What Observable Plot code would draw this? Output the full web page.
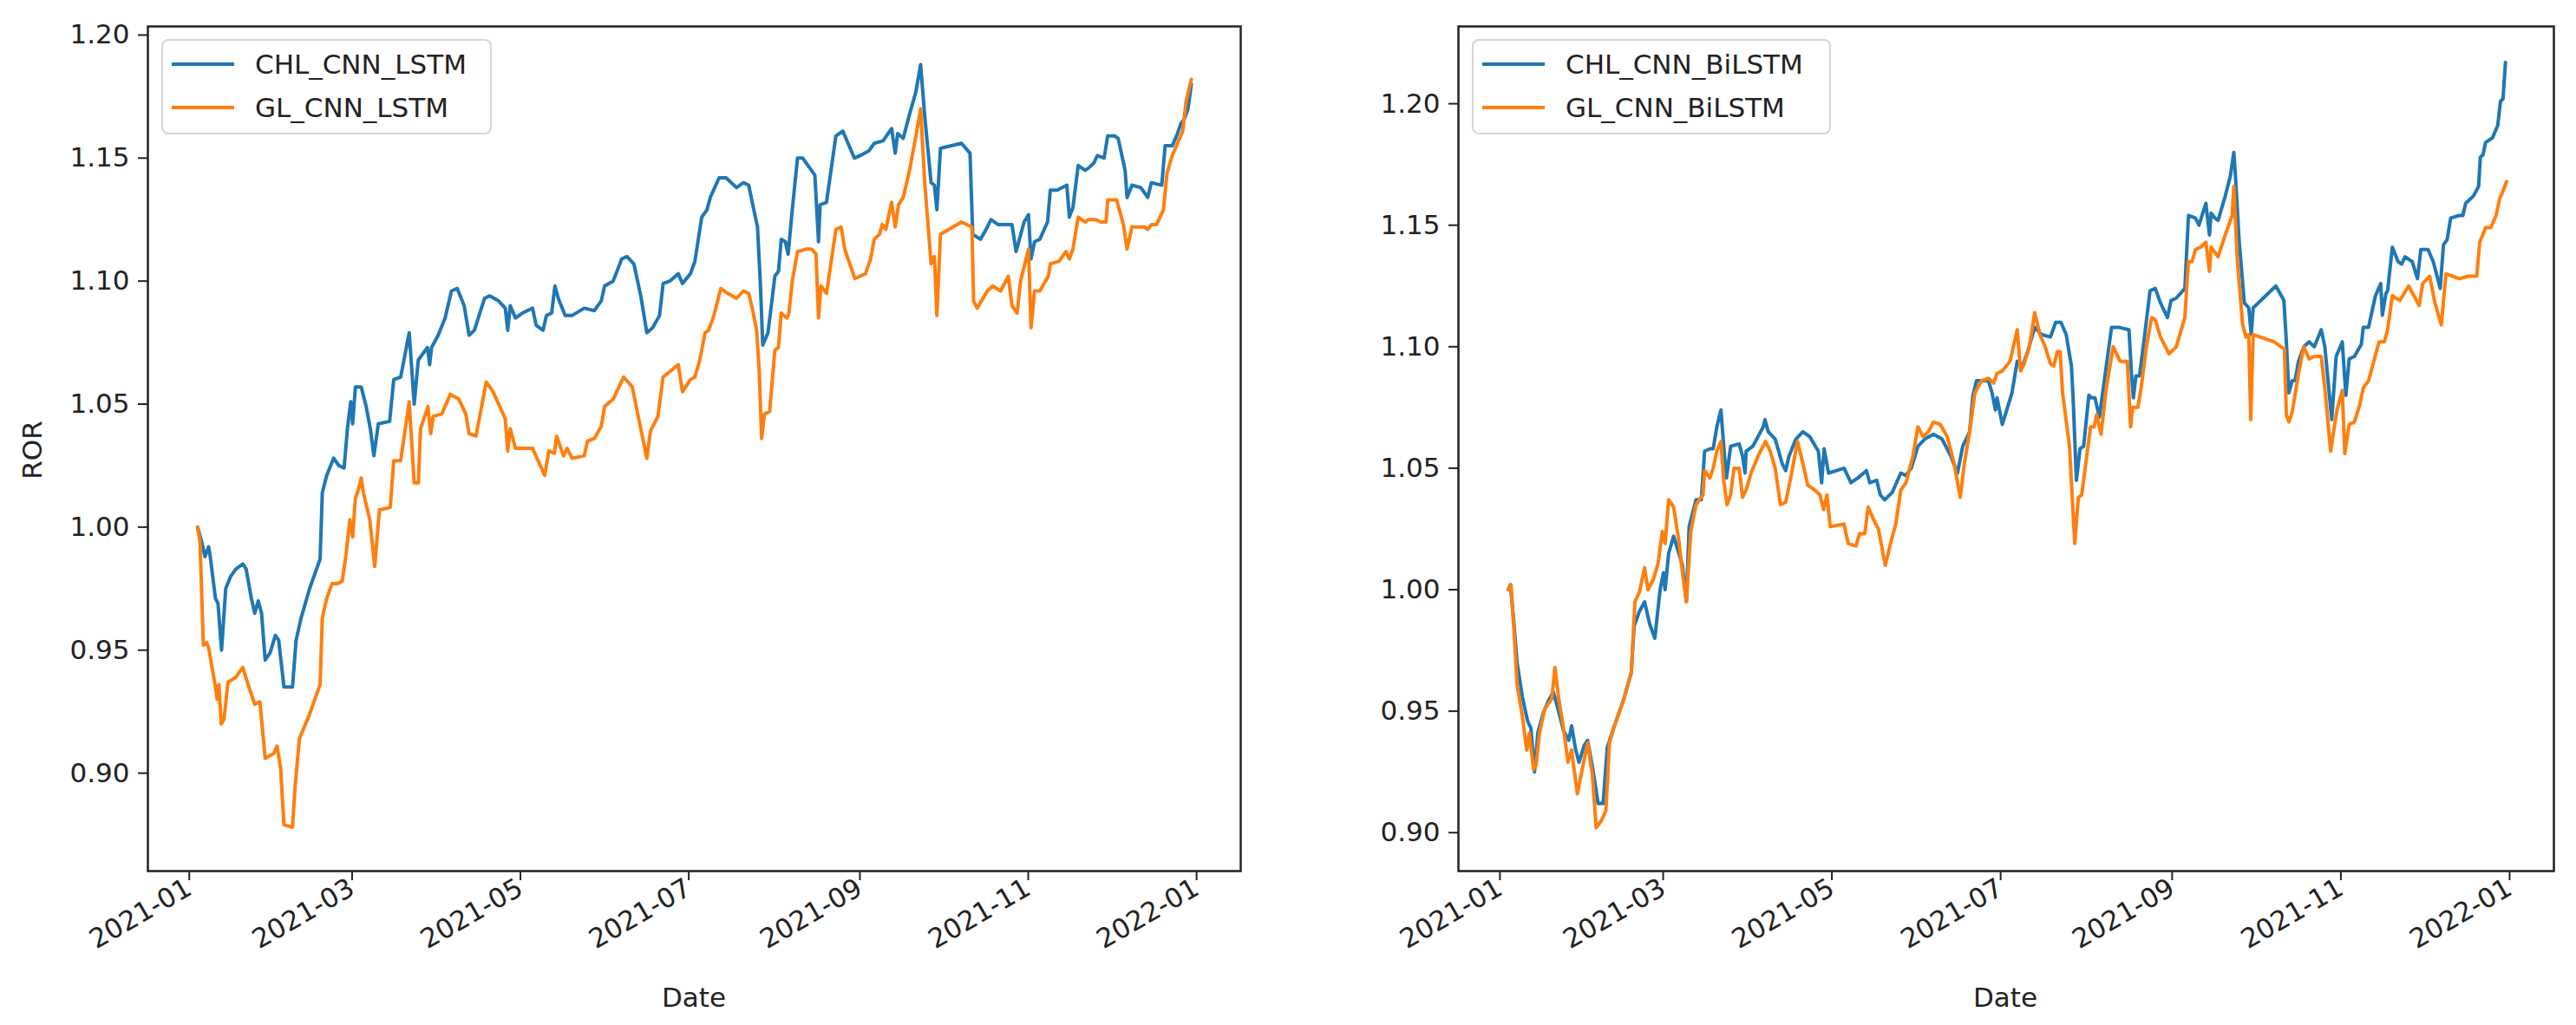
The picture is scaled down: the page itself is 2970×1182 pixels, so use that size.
<!DOCTYPE html>
<html><head><meta charset="utf-8">
<script src="https://cdn.jsdelivr.net/npm/d3@7"></script>
<script src="https://cdn.jsdelivr.net/npm/@observablehq/plot@0.6"></script>
<style>
html,body{margin:0;padding:0;background:#fff;}
#root{position:relative;width:2970px;height:1182px;overflow:hidden;font-family:"DejaVu Sans",sans-serif;background:#fff;}
.panel{position:absolute;top:0;}
.legend{position:absolute;border:2px solid #d6d6d6;border-radius:8px;background:rgba(255,255,255,0.8);box-sizing:border-box;}
.swatch{position:absolute;height:4px;}
.ltext{position:absolute;font-size:31px;color:#222;white-space:nowrap;line-height:1;}
.axlabel{position:absolute;font-size:31px;color:#222;white-space:nowrap;line-height:1;}
</style>
</head><body>
<div id="root"></div>
<script>
// ---- data: [day offset from 2021-01-01 (UTC), ROR] ----
const chlCnnLstm = [[3,1.000],[4.5,0.994],[5.7,0.988],[7,0.992],[7.6,0.988],[9.5,0.971],[10.4,0.969],[11.7,0.950],[13.2,0.975],[15,0.980],[16.9,0.983],[19.4,0.985],[20.6,0.983],[22.5,0.971],[23.7,0.965],[25,0.970],[26.2,0.965],[27.5,0.946],[29.3,0.949],[31.2,0.956],[32.4,0.954],[34.3,0.935],[37.4,0.935],[38.7,0.954],[40.5,0.963],[43.6,0.975],[47.4,0.987],[48.2,1.014],[49.8,1.021],[52.3,1.028],[54.2,1.025],[56.1,1.024],[57.3,1.040],[58.5,1.051],[59.2,1.042],[60.2,1.057],[62.3,1.057],[64.1,1.049],[65.6,1.040],[66.9,1.029],[68.5,1.042],[72.6,1.043],[74.1,1.060],[76.6,1.061],[79.7,1.079],[81.5,1.050],[83,1.068],[86.3,1.073],[87.1,1.066],[87.8,1.073],[90.2,1.078],[92.7,1.085],[95,1.096],[97.1,1.097],[99.6,1.090],[101.4,1.078],[103.3,1.080],[107,1.093],[108.9,1.094],[112,1.092],[114.5,1.089],[115.4,1.080],[116.3,1.090],[118.2,1.085],[120.7,1.087],[124.4,1.089],[125.7,1.082],[128.2,1.080],[129.4,1.086],[131.3,1.087],[132.5,1.098],[133.7,1.093],[136.2,1.086],[138.7,1.086],[143.1,1.089],[146.8,1.088],[149.3,1.092],[150.5,1.098],[153.6,1.100],[156.7,1.109],[158.6,1.110],[161.1,1.107],[163.6,1.094],[165.8,1.079],[167.9,1.081],[170.4,1.086],[171.7,1.099],[174.1,1.100],[177.2,1.103],[178.7,1.099],[181.6,1.103],[183.2,1.108],[185.7,1.126],[187.6,1.129],[188.8,1.134],[192,1.142],[194.5,1.142],[198.3,1.138],[200.8,1.140],[202.7,1.139],[204,1.132],[205.9,1.122],[206.9,1.100],[207.8,1.074],[209.7,1.079],[212.2,1.102],[213.5,1.104],[214.5,1.117],[216,1.116],[217,1.111],[218.5,1.129],[220.4,1.150],[222.3,1.150],[226.7,1.143],[228,1.116],[228.6,1.131],[230.9,1.132],[234.3,1.159],[236.8,1.161],[238.7,1.156],[241,1.150],[243.1,1.151],[246.3,1.153],[248.2,1.156],[251.4,1.157],[254.5,1.162],[255.8,1.152],[256.7,1.160],[258.7,1.158],[260.8,1.167],[263.3,1.177],[265,1.188],[266.5,1.167],[268.8,1.140],[270,1.139],[270.9,1.129],[272.2,1.154],[279.8,1.156],[282.9,1.152],[283.9,1.119],[286.7,1.117],[289.2,1.122],[290.5,1.125],[293,1.123],[296.8,1.123],[298.1,1.123],[299.6,1.112],[302.5,1.124],[304.1,1.127],[305,1.109],[306.3,1.116],[308.2,1.117],[311,1.124],[312,1.137],[314.5,1.137],[318,1.139],[318.9,1.126],[320.2,1.130],[322.1,1.147],[324.6,1.145],[325.9,1.146],[327.8,1.148],[329,1.151],[331.5,1.150],[332.8,1.159],[335.3,1.159],[336.6,1.158],[339.1,1.145],[339.8,1.134],[341.6,1.139],[344.8,1.138],[347.3,1.134],[348.6,1.140],[352.4,1.139],[353.6,1.155],[356.2,1.155],[358.1,1.160],[359.3,1.164],[360.6,1.166],[361.9,1.170],[363.1,1.180]];

const glCnnLstm = [[3,1.000],[3.9,0.994],[5.1,0.952],[6.3,0.953],[7,0.951],[9.5,0.935],[10.1,0.930],[10.7,0.936],[11.6,0.920],[12.6,0.922],[14,0.937],[16.9,0.939],[19.4,0.943],[21.3,0.936],[23.7,0.928],[25.6,0.929],[27.5,0.906],[30.6,0.908],[31.8,0.911],[33.1,0.902],[34.3,0.879],[37.4,0.878],[38.3,0.894],[39.9,0.914],[43.6,0.924],[47.4,0.936],[48.2,0.963],[49.8,0.971],[51.7,0.977],[53.6,0.977],[55.4,0.978],[56.7,0.988],[58.2,1.003],[59.2,0.996],[60.2,1.012],[61,1.014],[62.3,1.020],[63.1,1.014],[65.4,1.003],[67.2,0.984],[68.9,1.007],[72.8,1.008],[74.1,1.027],[76.6,1.027],[79.7,1.051],[81.5,1.018],[83,1.018],[83.8,1.040],[86.5,1.049],[87.5,1.038],[88.4,1.045],[91.5,1.046],[94.6,1.054],[97.7,1.052],[100.2,1.046],[101.4,1.038],[103.9,1.037],[107.6,1.059],[110.1,1.055],[114.5,1.044],[115.4,1.031],[116.3,1.040],[118.2,1.032],[124.4,1.032],[128.8,1.021],[130.3,1.031],[132.3,1.030],[133.1,1.037],[135.6,1.029],[136.9,1.032],[138.7,1.028],[143.1,1.029],[144.3,1.035],[146.8,1.036],[149.3,1.041],[150.5,1.049],[153.6,1.052],[157.4,1.061],[160.5,1.057],[163.6,1.040],[165.8,1.028],[167.1,1.039],[169.8,1.045],[171.7,1.061],[177.2,1.066],[178.7,1.055],[181.6,1.060],[183.2,1.061],[185,1.068],[186.9,1.079],[188.2,1.080],[190.1,1.086],[192.6,1.097],[195.1,1.095],[198.3,1.093],[200.8,1.096],[202.7,1.095],[204,1.089],[205.6,1.080],[206.5,1.064],[207.4,1.036],[208.4,1.046],[210.3,1.047],[212.2,1.072],[213.5,1.073],[214.5,1.087],[216.6,1.085],[217.3,1.087],[218.5,1.100],[220.4,1.112],[223.6,1.113],[225.5,1.113],[227.1,1.111],[228,1.085],[228.9,1.098],[230.9,1.095],[233,1.111],[234.3,1.121],[236.2,1.122],[237.5,1.113],[241.2,1.101],[245,1.103],[246.9,1.109],[248.2,1.117],[250.1,1.119],[251.1,1.123],[252.4,1.121],[254.5,1.132],[255.8,1.122],[257,1.131],[258.7,1.134],[260.8,1.144],[263.3,1.159],[265,1.170],[266.5,1.140],[268.8,1.107],[270,1.110],[270.9,1.086],[272.2,1.119],[279.8,1.124],[283.6,1.122],[284.2,1.092],[285.5,1.089],[289.2,1.096],[291.1,1.098],[294,1.096],[296.8,1.102],[298.1,1.090],[300,1.087],[301.2,1.100],[304.1,1.113],[305,1.081],[306.3,1.096],[308.2,1.096],[311.3,1.102],[312,1.107],[315.1,1.108],[317.7,1.112],[318.9,1.109],[320.2,1.113],[322.1,1.126],[324.6,1.124],[325.9,1.125],[328.4,1.125],[330.3,1.124],[332.2,1.124],[332.8,1.133],[336,1.133],[338.5,1.123],[339.8,1.113],[341.6,1.122],[346.1,1.122],[347.3,1.121],[348.6,1.123],[350.5,1.123],[353,1.129],[354.3,1.144],[356.2,1.151],[358.1,1.156],[360,1.161],[361.2,1.173],[363.1,1.182]];

const chlCnnBiLstm = [[3,1.000],[3.8,1.002],[5,0.987],[6.2,0.970],[8.1,0.956],[10,0.946],[11.2,0.943],[12.5,0.925],[13.7,0.941],[15.6,0.949],[17.4,0.954],[19.3,0.958],[20.5,0.953],[23,0.942],[24.9,0.938],[25.9,0.944],[27.4,0.934],[28.6,0.929],[30.5,0.936],[31.7,0.938],[33.6,0.926],[35.5,0.912],[37.3,0.912],[38.8,0.935],[41.1,0.943],[44.8,0.955],[47.5,0.966],[48.5,0.985],[50.4,0.991],[52.3,0.995],[54.1,0.986],[56,0.980],[57.9,1.000],[59.1,1.007],[59.7,1.000],[61,1.015],[62.8,1.022],[64.4,1.016],[66,1.010],[67.4,0.995],[68.4,1.026],[70.9,1.037],[72.8,1.037],[74,1.057],[75.9,1.058],[77.1,1.058],[78.4,1.067],[79.9,1.074],[80.9,1.059],[81.9,1.046],[83.4,1.059],[86.5,1.060],[87.7,1.055],[88.6,1.048],[89,1.057],[91.4,1.059],[95.2,1.067],[95.8,1.070],[97,1.065],[99.5,1.062],[102,1.052],[103.3,1.049],[104.5,1.055],[107,1.062],[109.5,1.065],[112,1.063],[115.1,1.057],[116.3,1.044],[117.2,1.058],[118.8,1.048],[124.4,1.050],[126.9,1.044],[129.4,1.046],[132.5,1.049],[133.7,1.044],[136.2,1.045],[137.5,1.039],[139.1,1.037],[141.8,1.040],[144.9,1.048],[146.8,1.047],[148.7,1.050],[151.1,1.059],[153.6,1.062],[156.7,1.064],[159.8,1.062],[163,1.055],[165.4,1.048],[167.3,1.059],[169.8,1.065],[171,1.080],[172.3,1.086],[176.6,1.086],[177.9,1.081],[179.1,1.074],[179.7,1.079],[181.6,1.068],[185.1,1.081],[187,1.094],[188.9,1.092],[190.8,1.098],[193.3,1.108],[195.8,1.105],[199,1.104],[200.9,1.110],[202.8,1.110],[204.7,1.105],[206.6,1.092],[207.2,1.079],[208.4,1.045],[209.7,1.058],[211,1.059],[212.9,1.080],[213.9,1.079],[215.1,1.079],[216.7,1.071],[218.6,1.087],[221.1,1.108],[223.6,1.108],[227.4,1.107],[228.3,1.089],[229,1.079],[229.9,1.088],[231.2,1.088],[233.1,1.105],[235,1.123],[236.9,1.124],[238.8,1.118],[241.3,1.112],[242.6,1.119],[244.5,1.120],[247.6,1.124],[248.9,1.154],[251.4,1.153],[252.7,1.150],[255.2,1.159],[256.5,1.146],[257.1,1.155],[258.4,1.153],[259.6,1.152],[262.2,1.162],[264,1.170],[265.3,1.180],[265.9,1.170],[267.2,1.144],[269.1,1.118],[270.7,1.116],[271.6,1.105],[272.3,1.116],[280.5,1.125],[283.4,1.119],[284.3,1.102],[285.2,1.081],[286.4,1.086],[287.4,1.086],[288.7,1.094],[290.6,1.100],[292.5,1.102],[294.4,1.100],[296.9,1.107],[298.2,1.100],[300.7,1.070],[302.3,1.096],[304.5,1.102],[305.8,1.080],[307,1.095],[308.9,1.096],[311.4,1.101],[312.1,1.108],[314,1.108],[316.5,1.121],[318.4,1.126],[319,1.113],[320.3,1.122],[320.9,1.123],[322.6,1.141],[324.7,1.135],[326,1.134],[327.2,1.137],[329.8,1.135],[331.7,1.128],[332.9,1.140],[335.5,1.140],[337.4,1.135],[339.9,1.124],[341.1,1.142],[342.4,1.144],[343.7,1.153],[346.8,1.154],[348.1,1.154],[349.1,1.159],[351.9,1.162],[353.8,1.166],[354.4,1.178],[355.4,1.179],[356.3,1.184],[358.8,1.186],[360.7,1.191],[361.7,1.201],[362.6,1.202],[363.5,1.217]];

const glCnnBiLstm = [[3,1.000],[4,1.002],[5,0.985],[6.2,0.961],[8.1,0.948],[9.7,0.934],[10.6,0.941],[12.2,0.926],[13.1,0.928],[14.3,0.941],[16.2,0.951],[18.7,0.955],[19.9,0.968],[21.4,0.954],[23,0.943],[24.6,0.929],[25.9,0.934],[28,0.916],[29.9,0.927],[31.7,0.937],[33.4,0.924],[34.8,0.902],[36.7,0.905],[38.3,0.909],[39.6,0.937],[41.1,0.943],[44.8,0.955],[47.5,0.966],[48.8,0.995],[50.4,0.999],[52.3,1.009],[53.5,1.000],[55.4,1.004],[57.2,1.011],[58.7,1.024],[59.7,1.019],[61,1.037],[62.8,1.034],[64.7,1.020],[66,1.007],[67.4,0.995],[69,1.024],[70.9,1.035],[73.4,1.039],[74,1.049],[75.9,1.046],[77.1,1.050],[78.4,1.057],[79.9,1.061],[80.9,1.045],[82.1,1.035],[83.4,1.039],[84.6,1.050],[86.5,1.050],[87.7,1.038],[89,1.041],[90.8,1.048],[93.3,1.055],[96,1.061],[97.7,1.057],[99.5,1.050],[101.4,1.035],[103.3,1.036],[105.1,1.046],[107.6,1.061],[109.5,1.052],[111.3,1.043],[113.8,1.041],[115.7,1.039],[117,1.033],[118.2,1.039],[119.4,1.026],[124.4,1.027],[125.9,1.019],[128.7,1.018],[130,1.023],[131.9,1.023],[133.1,1.034],[135,1.029],[136.8,1.025],[139.3,1.010],[141.2,1.019],[143.1,1.027],[144.9,1.041],[146.8,1.044],[149.3,1.055],[151.1,1.067],[153,1.063],[154.9,1.065],[156.7,1.069],[159.2,1.068],[161.7,1.063],[164.2,1.052],[166.4,1.038],[167.9,1.052],[169.8,1.065],[171.7,1.081],[174.1,1.086],[176.6,1.087],[178.5,1.085],[179.7,1.089],[181.6,1.090],[184.4,1.094],[187,1.107],[188.2,1.090],[189.5,1.093],[191.4,1.100],[193.3,1.114],[195.2,1.105],[197.1,1.100],[199,1.093],[200.2,1.092],[201.5,1.098],[202.5,1.098],[203.4,1.081],[205.9,1.059],[207.8,1.019],[209.1,1.038],[210.3,1.039],[213.5,1.067],[214.8,1.067],[215.7,1.072],[217.3,1.064],[219.2,1.083],[221.7,1.100],[224.2,1.094],[226.8,1.094],[228,1.067],[228.7,1.075],[230.6,1.075],[231.8,1.083],[233.7,1.100],[235.6,1.112],[236.9,1.111],[238.8,1.104],[241.9,1.097],[244.5,1.100],[247.6,1.112],[248.9,1.135],[250.2,1.135],[251.4,1.140],[253.3,1.141],[255.2,1.143],[256.5,1.131],[257.1,1.141],[259.6,1.137],[262.2,1.146],[264.7,1.154],[265.3,1.166],[266.6,1.135],[268.5,1.109],[269.7,1.104],[270.7,1.105],[271.4,1.070],[272.3,1.105],[279.8,1.102],[283.6,1.099],[284.3,1.072],[285.2,1.069],[286.4,1.073],[288.7,1.089],[290.6,1.100],[292.5,1.095],[294.4,1.096],[296.9,1.096],[298.2,1.083],[300.3,1.057],[302.6,1.074],[304.5,1.082],[305.4,1.056],[307,1.068],[308.9,1.069],[310.8,1.076],[312.1,1.083],[314,1.086],[315.9,1.094],[317.8,1.102],[319.7,1.102],[320.9,1.107],[322.6,1.121],[325.3,1.119],[328.5,1.125],[332.3,1.117],[333.6,1.126],[336.1,1.129],[338,1.118],[340.3,1.109],[342,1.130],[346.8,1.128],[350,1.129],[353.1,1.129],[354.2,1.143],[356.3,1.149],[358.2,1.149],[360.1,1.154],[361.4,1.161],[362.6,1.164],[363.9,1.168]];

const seriesNamesLeft = ["CHL_CNN_LSTM", "GL_CNN_LSTM"];
const seriesNamesRight = ["CHL_CNN_BiLSTM", "GL_CNN_BiLSTM"];
const seriesColors = ["#1f77b4", "#ff7f0e"];
const yTickValues = [0.90, 0.95, 1.00, 1.05, 1.10, 1.15, 1.20];
const xTickDates = ["2021-01-01", "2021-03-01", "2021-05-01", "2021-07-01", "2021-09-01", "2021-11-01", "2022-01-01"];
const yLabelLeft = "ROR";
const xLabel = "Date";

// ---- helpers ----
const base = Date.UTC(2021, 0, 1);
const toDate = d => new Date(base + d * 864e5);
const rows = s => s.map(([d, v]) => ({date: toDate(d), ror: v}));
const xTicks = xTickDates.map(s => new Date(s + "T00:00:00Z"));

function panel({series, names, yDomain, width, mLeft, mRight}) {
  return Plot.plot({
    width, height: 1182,
    marginLeft: mLeft, marginRight: mRight, marginTop: 30, marginBottom: 178,
    style: {fontFamily: "DejaVu Sans, sans-serif", fontSize: "31px", color: "#222", background: "transparent", overflow: "visible"},
    x: {type: "utc", domain: [toDate(-15), toDate(381)]},
    y: {domain: yDomain},
    marks: [
      Plot.axisY({ticks: yTickValues, tickFormat: d3.format(".2f"), tickSize: 11, tickPadding: 10, strokeWidth: 2, label: null}),
      Plot.axisX({ticks: xTicks, tickFormat: d3.utcFormat("%Y-%m"), tickRotate: -30, tickSize: 11, tickPadding: 6, strokeWidth: 2, label: null}),
      ...series.map((s, i) => Plot.line(rows(s), {x: "date", y: "ror", stroke: seriesColors[i], strokeWidth: 4, strokeLinejoin: "round"})),
      Plot.frame({stroke: "#222", strokeWidth: 2.5})
    ]
  });
}

const root = document.getElementById("root");
function place(el, left) {
  const d = document.createElement("div");
  d.className = "panel"; d.style.left = left + "px";
  d.appendChild(el); root.appendChild(d);
}
place(panel({series: [chlCnnLstm, glCnnLstm], names: seriesNamesLeft, yDomain: [0.8602, 1.2035], width: 1480, mLeft: 170, mRight: 50}), 0);
place(panel({series: [chlCnnBiLstm, glCnnBiLstm], names: seriesNamesRight, yDomain: [0.8842, 1.2318], width: 1490, mLeft: 201, mRight: 26}), 1480);

function legend(left, top, width, names) {
  const box = document.createElement("div");
  box.className = "legend";
  Object.assign(box.style, {left: left + "px", top: top + "px", width: width + "px", height: "110px"});
  names.forEach((n, i) => {
    const sw = document.createElement("div");
    sw.className = "swatch";
    Object.assign(sw.style, {left: "10px", top: (25 + i * 50) + "px", width: "72px", background: seriesColors[i]});
    box.appendChild(sw);
    const t = document.createElement("div");
    t.className = "ltext"; t.textContent = n;
    Object.assign(t.style, {left: "106px", top: (12 + i * 50) + "px"});
    box.appendChild(t);
  });
  root.appendChild(box);
}
legend(186, 45, 381, seriesNamesLeft);
legend(1697, 45, 414, seriesNamesRight);

function label(text, cx, cy, rot) {
  const t = document.createElement("div");
  t.className = "axlabel"; t.textContent = text;
  Object.assign(t.style, {left: cx + "px", top: cy + "px", transform: `translate(-50%,-50%)${rot ? " rotate(-90deg)" : ""}`});
  root.appendChild(t);
}
label(yLabelLeft, 37, 519, true);
label(xLabel, 800, 1150, false);
label(xLabel, 2312, 1150, false);
</script>
</body></html>
